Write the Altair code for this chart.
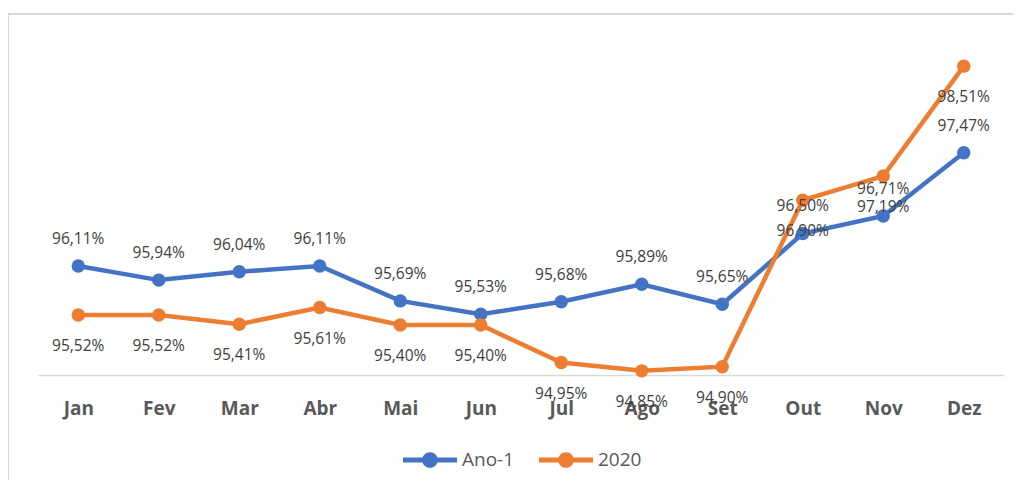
import altair as alt
import pandas as pd

months = ["Jan", "Fev", "Mar", "Abr", "Mai", "Jun", "Jul", "Ago", "Set", "Out", "Nov", "Dez"]
series_names = ["Ano-1", "2020"]
colors = ["#4472C4", "#ED7D31"]

ano1_values = [96.11, 95.94, 96.04, 96.11, 95.69, 95.53, 95.68, 95.89, 95.65, 96.50, 96.71, 97.47]
y2020_values = [95.52, 95.52, 95.41, 95.61, 95.40, 95.40, 94.95, 94.85, 94.90, 96.90, 97.19, 98.51]

rows = []
for i, m in enumerate(months):
    rows.append({"mes": m, "serie": series_names[0], "valor": ano1_values[i], "ord": 0})
for i, m in enumerate(months):
    rows.append({"mes": m, "serie": series_names[1], "valor": y2020_values[i], "ord": 1})
df = pd.DataFrame(rows)

FONT = "Open Sans"

x_enc = alt.X("mes:N", sort=months, title=None,
              scale=alt.Scale(paddingInner=1, paddingOuter=0.5),
              axis=alt.Axis(labelAngle=0, ticks=False, grid=False, domainColor="#d9d9d9",
                            domainWidth=1.5, labelFont=FONT, labelFontSize=19,
                            labelFontWeight="bold", labelColor="#595959",
                            labelBaseline="middle", labelPadding=33))
y_enc = alt.Y("valor:Q", axis=None, scale=alt.Scale(domain=[94.8, 98.8], nice=False, zero=False))
color_scale = alt.Scale(domain=series_names, range=colors)

sym = "M-1,-0.095H1V0.095H-1Z M0.29,0A0.29,0.29,0,1,1,-0.29,0A0.29,0.29,0,1,1,0.29,0Z"
legend = alt.Legend(title=None, orient="none", direction="horizontal",
                    legendX=365, legendY=391, symbolType=sym,
                    symbolSize=2916, symbolStrokeWidth=0, symbolOpacity=1,
                    labelFont=FONT, labelFontSize=19, labelColor="#595959",
                    labelOffset=5, columnPadding=24, padding=0)
color_enc = alt.Color("serie:N", scale=color_scale, sort=series_names, legend=legend)

base = alt.Chart(df).transform_calculate(
    txt="replace(format(datum.valor, '.2f'), '.', ',') + '%'"
)

lines = base.mark_line(strokeWidth=4.5).encode(
    x=x_enc, y=y_enc, color=color_enc, order="ord:Q",
)

points = base.mark_point(filled=True, size=180, opacity=1).encode(
    x=x_enc, y=y_enc, color=color_enc,
)

labels_top = base.transform_filter(alt.datum.serie == series_names[0]).mark_text(
    dy=-27, font=FONT, fontSize=15.5, color="#404040"
).encode(x=x_enc, y=y_enc, text="txt:N")

labels_bot = base.transform_filter(alt.datum.serie == series_names[1]).mark_text(
    dy=31, font=FONT, fontSize=15.5, color="#404040"
).encode(x=x_enc, y=y_enc, text="txt:N")

frame_df = pd.DataFrame({"k": [0]})
frame_top = alt.Chart(frame_df).mark_rule(color="#d9d9d9", strokeWidth=2).encode(
    x=alt.value(-30), x2=alt.value(990), y=alt.value(-28))
frame_left = alt.Chart(frame_df).mark_rule(color="#d9d9d9", strokeWidth=2).encode(
    x=alt.value(-30), y=alt.value(-28), y2=alt.value(450))

chart = alt.layer(frame_top, frame_left, lines, points, labels_top, labels_bot).properties(
    width=966, height=333,
    autosize=alt.AutoSizeParams(type="none"),
    padding={"left": 30, "top": 34, "right": 9, "bottom": 105},
).configure(background="white").configure_view(stroke=None)

chart.save("out.html", embed_options={"renderer": "svg", "actions": False})
